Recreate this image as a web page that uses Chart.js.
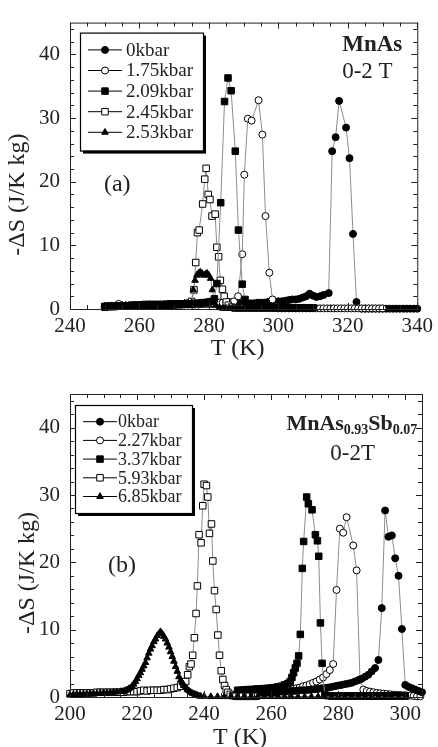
<!DOCTYPE html>
<html>
<head>
<meta charset="utf-8">
<script src="https://cdn.jsdelivr.net/npm/chart.js@4.4.1/dist/chart.umd.min.js"></script>
<style>
html,body{margin:0;padding:0;background:#fff;}
#wa{position:absolute;left:0;top:0;width:438px;height:370px;}
#wb{position:absolute;left:0;top:370px;width:438px;height:377px;}
</style>
</head>
<body>
<div id="wa"><canvas id="ca" width="438" height="370"></canvas></div>
<div id="wb"><canvas id="cb" width="438" height="377"></canvas></div>
<script>
// ---- data (T in K, -dS in J/K kg) ----
const namesA = ['0kbar','1.75kbar','2.09kbar','2.45kbar','2.53kbar'];
const namesB = ['0kbar','2.27kbar','3.37kbar','5.93kbar','6.85kbar'];
const ticksXA = [240,260,280,300,320,340];
const ticksXB = [200,220,240,260,280,300];
const ticksY = [0,10,20,30,40];

// (a) MnAs
const a0 = [[250,0.3],[251,0.4],[252,0.4],[253,0.4],[254,0.5],[255,0.5],[256,0.5],[257,0.5],[258,0.5],[259,0.5],[260,0.5],[261,0.5],[262,0.5],[263,0.6],[264,0.6],[265,0.6],[266,0.6],[267,0.6],[268,0.6],[269,0.6],[270,0.6],[271,0.7],[272,0.7],[273,0.7],[274,0.7],[275,0.7],[276,0.7],[277,0.7],[278,0.8],[279,0.8],[280,0.8],[281,0.8],[282,0.8],[283,0.8],[284,0.8],[285,0.8],[286,0.8],[287,0.9],[288,0.9],[289,0.9],[290,0.9],[291,0.9],[292,0.9],[293,0.9],[294,1.0],[295,1.0],[296,1.0],[297,1.1],[298,1.1],[299,1.1],[300,1.2],[301,1.2],[302,1.3],[303,1.4],[304,1.5],[305,1.5],[306,1.6],[307,1.8],[308,2.0],[309,2.4],[310,2.1],[311,1.9],[312,2.0],[313,2.2],[314.5,2.5],[315.5,24.8],[316.5,27.0],[317.5,32.7],[319.5,28.5],[320.5,23.7],[321.5,11.8],[322.5,1.1],[324,0.05],[325,0.05],[326,0.05],[327,0.05],[328,0.05],[329,0.05],[330,0.05],[331,0.05],[332,0.05],[333,0.05],[334,0.05],[335,0.05],[336,0.05],[337,0.05],[338,0.05],[339,0.05],[340,0.05]];
const a175 = [[250,0.4],[251,0.4],[252,0.5],[253,0.5],[254,0.8],[255,0.5],[256,0.5],[257,0.5],[258,0.6],[259,0.6],[260,0.6],[261,0.6],[262,0.6],[263,0.6],[264,0.6],[265,0.6],[266,0.6],[267,0.7],[268,0.7],[269,0.7],[270,0.7],[271,0.7],[272,0.7],[273,0.8],[274,0.8],[275,0.8],[276,0.8],[277,0.8],[278,0.9],[279,0.9],[280,0.9],[281,0.9],[282,1.0],[283,1.0],[284,1.0],[285,1.1],[286,1.1],[287.2,1.2],[288.4,2.0],[289.6,8.6],[290.2,21.1],[291.2,29.9],[292.3,29.6],[294.3,32.8],[295.4,27.4],[296.3,14.6],[297.4,5.7],[298.3,1.5],[299.3,0.4],[300,0.1],[301,0.1],[302,0.1],[303,0.1],[304,0.1],[305,0.1],[306,0.1],[307,0.1],[308,0.1],[309,0.1],[310,0.1],[311,0.1],[312,0.1],[313,0.1],[314,0.1],[315,0.1],[316,0.1],[317,0.1],[318,0.1],[319,0.1],[320,0.1],[321,0.1],[322,0.1],[323,0.1],[324,0.1],[325,0.1],[326,0.1],[327,0.1],[328,0.1],[329,0.1],[330,0.1]];
const a209 = [[250,0.3],[251,0.4],[252,0.4],[253,0.4],[254,0.5],[255,0.5],[256,0.5],[257,0.5],[258,0.5],[259,0.5],[260,0.5],[261,0.6],[262,0.6],[263,0.6],[264,0.6],[265,0.6],[266,0.6],[267,0.6],[268,0.7],[269,0.7],[270,0.7],[271,0.7],[272,0.7],[273,0.8],[274,0.8],[275,0.8],[276,0.9],[277,0.9],[278,1.0],[279,1.0],[280,1.1],[281,1.2],[281.6,1.6],[282.3,4.0],[283.4,16.7],[284.5,32.6],[285.5,36.3],[286.4,34.3],[287.6,24.8],[288.5,12.4],[289.6,3.9],[290.4,1.5],[291,0.6],[292,0.4],[293,0.35],[294,0.3],[295,0.3],[296,0.3],[297,0.3],[298,0.25],[299,0.25],[300,0.25],[301,0.25],[302,0.2],[303,0.2],[304,0.2],[305,0.2],[306,0.2],[307,0.2],[308,0.2],[309,0.2],[310,0.2]];
const a245 = [[250,0.4],[251,0.4],[252,0.4],[253,0.5],[254,0.5],[255,0.5],[256,0.5],[257,0.5],[258,0.6],[259,0.6],[260,0.6],[261,0.6],[262,0.7],[263,0.7],[264,0.7],[265,0.7],[266,0.7],[267,0.7],[268,0.7],[269,0.8],[270,0.8],[271,0.8],[272,0.8],[273,0.8],[274,0.9],[275,1.2],[275.7,3.0],[276.2,7.3],[276.7,12.0],[277.2,12.4],[278.2,16.5],[278.8,20.4],[279.2,22.1],[279.8,18.0],[280.3,17.2],[280.9,14.6],[281.8,14.9],[282.3,9.7],[282.8,8.2],[283.3,4.5],[283.9,3.1],[284.4,2.0],[285.0,1.1],[285.6,0.6],[286.5,0.3],[287.5,0.15],[288.5,0.15],[289.5,0.15],[290.5,0.15],[291.5,0.15],[292.5,0.15],[293.5,0.15],[294.5,0.15],[295.5,0.15],[296.5,0.15],[297.5,0.15],[298.5,0.15],[299.5,0.15],[300.5,0.15],[301.5,0.15],[302.5,0.15],[303.5,0.15],[304.5,0.15],[305.5,0.15],[306.5,0.15],[307.5,0.15],[308.5,0.15],[309.5,0.15]];
const a253 = [[250,0.5],[251,0.5],[252,0.5],[253,0.5],[254,0.5],[255,0.6],[256,0.6],[257,0.6],[258,0.6],[259,0.6],[260,0.6],[261,0.7],[262,0.7],[263,0.7],[264,0.7],[265,0.7],[266,0.7],[267,0.7],[268,0.8],[269,0.8],[270,0.8],[271,0.8],[272,0.8],[273,0.9],[274,0.9],[275,1.0],[275.5,3.0],[276,4.5],[276.5,5.3],[277,5.6],[277.5,5.8],[278,5.6],[278.5,5.3],[279,5.5],[279.5,5.6],[280,5.3],[280.5,4.8],[281,3.0],[281.5,1.5],[282,0.6],[283,0.2],[284,0.1],[285,0.1],[286,0.1],[287,0.1],[288,0.1],[289,0.1],[290,0.1],[291,0.1],[292,0.1],[293,0.1],[294,0.1],[295,0.1],[296,0.1],[297,0.1],[298,0.1],[299,0.1],[300,0.1],[301,0.1],[302,0.1],[303,0.1],[304,0.1],[305,0.1],[306,0.1],[307,0.1],[308,0.1],[309,0.1],[310,0.1]];

// (b) MnAs0.93Sb0.07
const b0 = [[250,0.3],[251,0.35],[252,0.4],[253,0.45],[254,0.5],[255,0.5],[256,0.55],[257,0.6],[258,0.6],[259,0.65],[260,0.7],[261,0.7],[262,0.75],[263,0.8],[264,0.8],[265,0.85],[266,0.9],[267,0.9],[268,0.95],[269,1.0],[270,1.0],[271,1.05],[272,1.1],[273,1.15],[274,1.2],[275,1.3],[276,1.35],[277,1.4],[278,1.5],[279,1.6],[280,1.7],[281,1.8],[282,1.9],[283,2.0],[284,2.1],[285,2.3],[286,2.5],[287,2.7],[288,3.0],[289,3.3],[290,3.8],[291,4.3],[292,5.5],[293,13.2],[294,27.7],[295,23.8],[296,24.0],[297,20.6],[298,18.0],[299,10.1],[300,1.8],[301,1.5],[302,1.3],[303,1.1],[304,0.9],[305,0.7]];
const b227 = [[250.5,0.3],[251.5,0.35],[252.5,0.4],[253.5,0.45],[254.5,0.5],[255.5,0.55],[256.5,0.6],[257.5,0.65],[258.5,0.7],[259.5,0.75],[260.5,0.8],[261.5,0.85],[262.5,0.9],[263.5,1.0],[264.5,1.05],[265.5,1.1],[266.5,1.2],[267.5,1.3],[268.5,1.4],[269.5,1.6],[270.5,1.7],[271.5,1.9],[272.5,2.1],[273.5,2.3],[274.5,2.6],[275.5,2.9],[276.5,3.4],[277.5,4.0],[278.5,4.9],[279.5,15.9],[280.5,25.0],[281.5,24.4],[282.5,26.7],[284.5,22.5],[285.5,18.8],[286.5,2.6],[287.5,1.1],[288.5,0.9],[289.5,0.8],[290.5,0.7],[291.5,0.6],[292.5,0.55],[293.5,0.5],[294.5,0.45],[295.5,0.4],[296.5,0.35],[297.5,0.3],[298.5,0.3],[299.5,0.25],[300.5,0.2],[301.5,0.2],[302.5,0.15],[303.5,0.1],[304.5,0.1]];
const b337 = [[250,1.0],[251,1.0],[252,1.05],[253,1.1],[254,1.1],[255,1.15],[256,1.2],[257,1.2],[258,1.25],[259,1.3],[260,1.35],[261,1.4],[262,1.5],[263,1.6],[264,1.8],[265,2.0],[265.7,2.3],[266.2,2.9],[266.7,3.6],[267.2,4.3],[267.7,5.0],[268.2,6.1],[268.7,9.3],[269.3,19.1],[269.7,23.1],[270.6,29.7],[271.1,28.7],[272.2,27.8],[273.2,24.1],[273.8,23.2],[274.2,20.9],[274.7,11.0],[275.2,5.0],[276,0.3],[277,0.2],[278,0.15],[279,0.15],[280,0.15],[281,0.15],[282,0.15],[283,0.15],[284,0.15],[285,0.15],[286,0.15],[287,0.15],[288,0.15],[289,0.15],[290,0.15],[291,0.15],[292,0.15],[293,0.15],[294,0.15],[295,0.15],[296,0.15],[297,0.15],[298,0.15],[299,0.15],[300,0.15]];
const b593 = [[200,0.5],[201,0.6],[202,0.6],[203,0.6],[204,0.6],[205,0.6],[206,0.6],[207,0.6],[208,0.7],[209,0.7],[210,0.7],[211,0.7],[212,0.7],[213,0.7],[214,0.7],[215,0.7],[216,0.7],[217,0.8],[218,0.8],[219,0.8],[220,0.8],[221,0.9],[222,1.0],[223,0.9],[224,1.0],[225,1.0],[226,1.0],[227,1.0],[228,1.1],[229,1.1],[230,1.2],[231,1.3],[232,1.4],[233,1.6],[234,1.9],[234.5,2.3],[235.1,3.3],[235.6,4.5],[236.1,4.9],[236.6,6.2],[237.1,8.8],[237.6,12.4],[238.0,16.5],[238.5,24.1],[239.1,22.9],[239.6,28.4],[240.0,31.6],[240.7,31.4],[241.1,29.7],[241.6,24.3],[242.2,25.7],[242.6,20.2],[243.1,15.8],[243.6,13.0],[244.1,9.2],[244.6,6.2],[245.1,3.9],[245.6,2.6],[246.1,1.7],[246.6,1.1],[247.1,0.7],[247.8,0.4],[248.5,0.2],[249.5,0.1],[250.5,0.1],[251.5,0.1],[252.5,0.1],[253.5,0.1],[254.5,0.1],[255.5,0.1]];
const b685 = [[200,0.3],[201,0.35],[202,0.4],[203,0.4],[204,0.45],[205,0.45],[206,0.5],[207,0.5],[208,0.5],[209,0.55],[210,0.6],[211,0.6],[212,0.65],[213,0.7],[214,0.75],[215,0.8],[215.5,0.8],[216,0.85],[216.5,0.95],[217,1.05],[217.5,1.2],[218,1.35],[218.5,1.6],[219,1.9],[219.5,2.3],[220,2.7],[220.5,3.2],[221,3.6],[221.5,4.1],[222,4.6],[222.5,5.1],[223,5.8],[223.5,6.5],[224,7.1],[224.5,7.6],[225,8.2],[225.5,8.6],[226,9.1],[226.5,9.4],[227,9.7],[227.5,9.4],[228,9.0],[228.5,8.6],[229,8.0],[229.5,7.4],[230,6.7],[230.5,6.0],[231,5.3],[231.5,4.5],[232,3.8],[232.5,3.0],[233,2.5],[233.5,2.1],[234,1.7],[234.5,1.4],[235,1.1],[235.5,0.9],[236,0.7],[236.5,0.55],[237,0.45],[237.5,0.35],[238,0.25],[238.5,0.15],[239,0.1],[240,0.1],[242,0.05],[244,0.05],[246,0.05],[248,0.05],[250,0.05],[252,0.05],[254,0.05],[256,0.05],[258,0.05],[260,0.05],[262,0.05],[264,0.05],[266,0.05],[268,0.05],[270,0.05],[272,0.05],[274,0.05],[276,0.05],[278,0.05],[280,0.05],[282,0.05],[284,0.05],[286,0.05],[288,0.05],[290,0.05],[292,0.05],[294,0.05],[296,0.05],[298,0.05],[300,0.05]];

// ---- styles ----
const SERIF = '"Liberation Serif", "Times New Roman", serif';
const marks = [
  {s:'circle', r:3.5, f:'#000'},
  {s:'circle', r:3.5, f:'#fff'},
  {s:'rect', r:4.6, f:'#000'},
  {s:'rect', r:4.6, f:'#fff'},
  {s:'triangle', r:3.8, f:'#000'}
];

function makeSets(series, names, orders) {
  return series.map((pts, i) => ({
    label: names[i],
    data: pts.map(p => ({x: p[0], y: p[1]})),
    showLine: true,
    borderColor: '#8c8c8c',
    borderWidth: 1,
    pointStyle: marks[i].s,
    pointRadius: marks[i].r,
    pointBackgroundColor: marks[i].f,
    pointBorderColor: '#000',
    pointBorderWidth: 1,
    order: orders[i],
    clip: false
  }));
}

function drawMarker(ctx, m, x, y) {
  ctx.beginPath();
  if (m.s === 'circle') {
    ctx.arc(x, y, m.r, 0, Math.PI * 2);
  } else if (m.s === 'rect') {
    const h = m.r * Math.SQRT1_2;
    ctx.rect(x - h, y - h, 2 * h, 2 * h);
  } else {
    let a = 0;
    ctx.moveTo(x + Math.sin(a) * m.r, y - Math.cos(a) * m.r);
    a += 2 * Math.PI / 3;
    ctx.lineTo(x + Math.sin(a) * m.r, y - Math.cos(a) * m.r);
    a += 2 * Math.PI / 3;
    ctx.lineTo(x + Math.sin(a) * m.r, y - Math.cos(a) * m.r);
    ctx.closePath();
  }
  ctx.fillStyle = m.f;
  ctx.fill();
  ctx.lineWidth = 1;
  ctx.strokeStyle = '#000';
  ctx.stroke();
}

// frame, inward ticks, legend box and labels
const panelPlugin = {
  id: 'panel',
  afterDraw(chart, args, o) {
    const {ctx, chartArea: a} = chart;
    const x = chart.scales.x, y = chart.scales.y;
    ctx.save();
    ctx.strokeStyle = '#222';
    ctx.lineWidth = 1;
    ctx.strokeRect(a.left + 0.5, a.top + 0.5, a.right - a.left, a.bottom - a.top);
    ctx.beginPath();
    for (let v = x.min; v <= x.max + 1e-6; v += 5) {
      const px = Math.round(x.getPixelForValue(v)) + 0.5;
      const L = (v % 20 === 0) ? 6 : 4;
      ctx.moveTo(px, a.bottom); ctx.lineTo(px, a.bottom - L);
      ctx.moveTo(px, a.top); ctx.lineTo(px, a.top + L);
    }
    for (let v = 0; v <= 45; v += 2) {
      const py = Math.round(y.getPixelForValue(v)) + 0.5;
      const L = (v % 10 === 0) ? 6 : 4;
      ctx.moveTo(a.left, py); ctx.lineTo(a.left + L, py);
      ctx.moveTo(a.right, py); ctx.lineTo(a.right - L, py);
    }
    ctx.stroke();

    // axis titles
    ctx.fillStyle = '#222';
    ctx.font = '24px ' + SERIF;
    ctx.textAlign = 'center';
    ctx.textBaseline = 'alphabetic';
    ctx.fillText('T (K)', (a.left + a.right) / 2 - 6, a.bottom + o.xTitleDy);
    ctx.save();
    ctx.translate(a.left + o.yTitle[0], a.top + o.yTitle[1]);
    ctx.rotate(-Math.PI / 2);
    ctx.textBaseline = 'middle';
    ctx.fillText('-\u0394S (J/K kg)', 0, 0);
    ctx.restore();

    // free labels, anchored through the scales
    for (const t of o.texts) {
      let px = x.getPixelForValue(t.at[0]);
      const py = y.getPixelForValue(t.at[1]);
      ctx.textBaseline = 'alphabetic';
      if (t.parts) {
        let w = 0;
        for (const p of t.parts) { ctx.font = p.f + SERIF; w += ctx.measureText(p.t).width; }
        px -= w;
        ctx.textAlign = 'left';
        for (const p of t.parts) {
          ctx.font = p.f + SERIF;
          ctx.fillText(p.t, px, py + (p.dy || 0));
          px += ctx.measureText(p.t).width;
        }
      } else {
        ctx.font = t.f + SERIF;
        ctx.textAlign = t.align;
        ctx.fillText(t.t, px, py);
      }
    }

    // legend
    const L = o.legend;
    const bx = a.left + L.dx, by = a.top + L.dy;
    ctx.fillStyle = '#000';
    ctx.fillRect(bx + 3, by + 3, L.w, L.h);
    ctx.fillStyle = '#fff';
    ctx.fillRect(bx, by, L.w, L.h);
    ctx.strokeStyle = '#000';
    ctx.lineWidth = 1.2;
    ctx.strokeRect(bx + 0.5, by + 0.5, L.w, L.h);
    chart.data.datasets.forEach((ds, i) => {
      const ry = by + L.row0 + i * L.gap;
      ctx.beginPath();
      ctx.strokeStyle = '#000';
      ctx.lineWidth = 1;
      ctx.moveTo(bx + L.line[0], ry); ctx.lineTo(bx + L.line[1], ry);
      ctx.stroke();
      drawMarker(ctx, marks[i], bx + L.mark, ry);
      ctx.fillStyle = '#222';
      ctx.font = L.size + 'px ' + SERIF;
      ctx.textAlign = 'left';
      ctx.textBaseline = 'middle';
      ctx.fillText(ds.label, bx + L.text, ry + 1);
    });
    ctx.restore();
  }
};

function makeOptions(xmin, xmax, xticks, topPad, xh, panel) {
  const tickFont = {family: SERIF, size: 21};
  return {
    responsive: false,
    animation: false,
    layout: {padding: {left: 0, right: 16, top: topPad, bottom: 0}},
    plugins: {legend: {display: false}, tooltip: {enabled: false}, panel: panel},
    scales: {
      x: {
        type: 'linear', min: xmin, max: xmax,
        grid: {display: false, drawTicks: false},
        border: {display: false},
        afterBuildTicks: s => { s.ticks = xticks.map(v => ({value: v})); },
        afterFit: s => { s.height = xh; },
        ticks: {padding: 5, color: '#222', font: tickFont, maxRotation: 0, autoSkip: false}
      },
      y: {
        type: 'linear', min: 0, max: 45,
        grid: {display: false, drawTicks: false},
        border: {display: false},
        afterBuildTicks: s => { s.ticks = ticksY.map(v => ({value: v})); },
        afterFit: s => { s.width = 70; },
        ticks: {padding: 10, color: '#222', font: tickFont}
      }
    }
  };
}

new Chart(document.getElementById('ca'), {
  type: 'scatter',
  data: {datasets: makeSets([a0, a175, a209, a245, a253], namesA, [5, 4, 1, 3, 2])},
  options: makeOptions(240, 340, ticksXA, 7, 61, {
    xTitleDy: 46,
    yTitle: [-52, 172],
    legend: {dx: 10, dy: 10, w: 123, h: 118, row0: 17.3, gap: 20.6, line: [8, 42], mark: 25, text: 46, size: 19},
    texts: [
      {t: '(a)', at: [253.6, 18.6], f: '24px ', align: 'center'},
      {t: 'MnAs', at: [335.7, 40.6], f: 'bold 23px ', align: 'right'},
      {t: '0-2 T', at: [332.9, 36.3], f: '23px ', align: 'right'}
    ]
  }),
  plugins: [panelPlugin]
});

new Chart(document.getElementById('cb'), {
  type: 'scatter',
  data: {datasets: makeSets([b0, b227, b337, b593, b685], namesB, [4, 5, 3, 2, 1])},
  options: makeOptions(200, 305, ticksXB, 24, 50, {
    xTitleDy: 47,
    yTitle: [-42.5, 179],
    legend: {dx: 5, dy: 11, w: 117, h: 108, row0: 16.7, gap: 18.7, line: [8, 42], mark: 25, text: 43, size: 18},
    texts: [
      {t: '(b)', at: [215.5, 18.6], f: '24px ', align: 'center'},
      {at: [303.6, 39.7], parts: [
        {t: 'MnAs', f: 'bold 22px '},
        {t: '0.93', f: 'bold 14px ', dy: 4},
        {t: 'Sb', f: 'bold 22px '},
        {t: '0.07', f: 'bold 14px ', dy: 4}
      ]},
      {t: '0-2T', at: [291.0, 35.2], f: '23px ', align: 'right'}
    ]
  }),
  plugins: [panelPlugin]
});
</script>
</body>
</html>
